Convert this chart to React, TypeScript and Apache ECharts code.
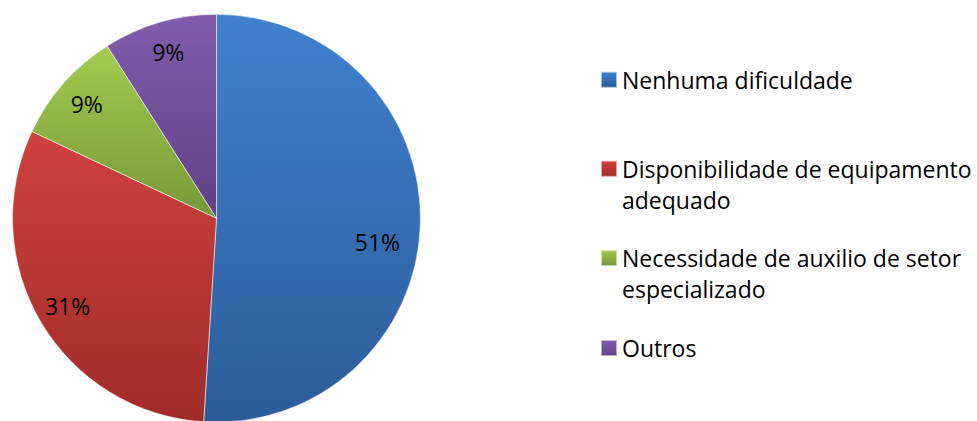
import React, { useEffect, useRef } from "react";
import * as echarts from "echarts";

const categories = [
  "Nenhuma dificuldade",
  "Disponibilidade de equipamento adequado",
  "Necessidade de auxilio de setor especializado",
  "Outros",
];
const values = [51, 31, 9, 9];
const legendLines: string[][] = [
  ["Nenhuma dificuldade"],
  ["Disponibilidade de equipamento", "adequado"],
  ["Necessidade de auxilio de setor", "especializado"],
  ["Outros"],
];
const gradientTops = ["#3f81cf", "#cf413e", "#a3cb4f", "#815cad"];
const gradientBottoms = ["#2c5c98", "#9f2c2a", "#789739", "#5e4283"];

const FONT = "Open Sans";
const LINE_H = 31;
const ICON = 16;

export default function App() {
  const ref = useRef<HTMLDivElement>(null);
  useEffect(() => {
    if (!ref.current) return;
    const chart = echarts.init(ref.current, undefined, { renderer: "svg" });
    const center = [216.5, 218.3];
    const R = 204;
    const colorFor = (i: number) =>
      new echarts.graphic.LinearGradient(0, 0, 0, 1, [
        { offset: 0, color: gradientTops[i] },
        { offset: 1, color: gradientBottoms[i] },
      ]);
    const mainData = categories.map((name, i) => ({
      name,
      value: values[i],
      itemStyle: { color: colorFor(i) },
    }));
    const labelOffsets: number[][] = [[-12, 18], [0, 0], [0, 0], [0, 0]];
    const labelData = categories.map((name, i) => ({
      name,
      value: values[i],
      label: { offset: labelOffsets[i] },
    }));
    const iconCenters = [79.7, 168.7, 258, 348];
    const legends = categories.map((name, i) => {
      const lines = legendLines[i];
      const multi = lines.length > 1;
      const text = multi ? "\n" + lines.join("\n") : lines[0];
      const nLines = multi ? lines.length + 1 : 1;
      const half = (nLines * LINE_H) / 2;
      const top = iconCenters[i] - half;
      return {
        show: true,
        orient: "vertical",
        left: 600,
        top,
        padding: 0,
        itemWidth: ICON,
        itemHeight: ICON,
        selectedMode: false,
        data: [{ name, icon: "rect" }],
        formatter: () => text,
        textStyle: {
          fontFamily: FONT,
          fontSize: 23,
          color: "#000",
          lineHeight: LINE_H,
        },
      };
    });
    chart.setOption({
      animation: false,
      backgroundColor: "#fff",
      legend: legends,
      series: [
        {
          type: "pie",
          name: "main",
          center,
          radius: R,
          startAngle: 90,
          clockwise: true,
          label: { show: false },
          labelLine: { show: false },
          itemStyle: { borderColor: "rgba(255,255,255,0.55)", borderWidth: 1 },
          emphasis: { disabled: true },
          data: mainData,
        },
        {
          type: "pie",
          name: "labels",
          center,
          radius: [136, 204],
          startAngle: 90,
          clockwise: true,
          silent: true,
          itemStyle: { color: "rgba(0,0,0,0)", borderWidth: 0 },
          label: {
            show: true,
            position: "inside",
            formatter: "{d}%",
            fontFamily: FONT,
            fontSize: 23,
            color: "#000",
          },
          labelLine: { show: false },
          emphasis: { disabled: true },
          data: labelData,
        },
      ],
    });
    return () => chart.dispose();
  }, []);
  return (
    <div
      ref={ref}
      style={{ position: "fixed", left: 0, top: 0, width: 977, height: 421 }}
    />
  );
}
